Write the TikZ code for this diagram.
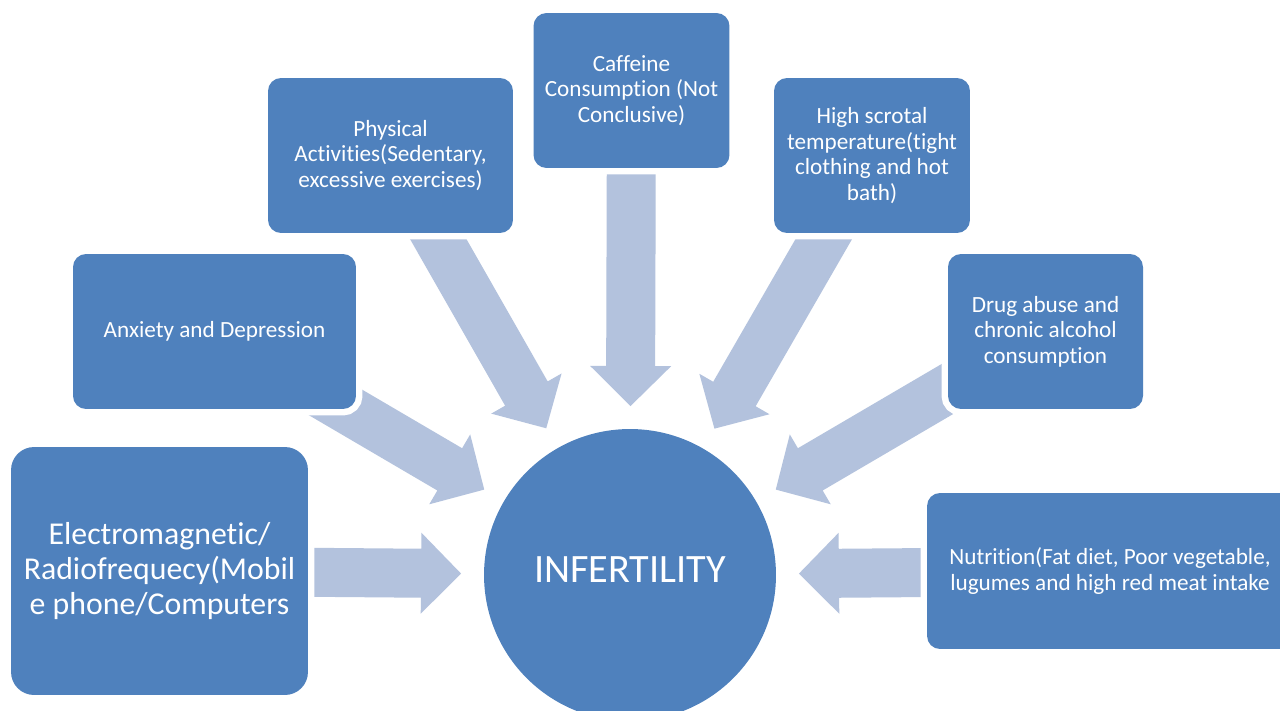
\documentclass[tikz,border=0pt]{standalone}
\usepackage{fontspec}
\setmainfont{Carlito}[Ligatures=NoCommon]
\usepackage{xcolor}
\usepackage{tikz}
\usetikzlibrary{calc, backgrounds}

\definecolor{boxblue}{HTML}{4F81BD}
\definecolor{flowblue}{HTML}{B3C2DD}

% block arrow from a factor box towards the hub
\newcommand{\blockarrow}[2]{%
  \coordinate (tp) at ($(#2.center)!3.38cm!(#1.center)$);
  \coordinate (bs) at ($(#2.center)!4.18cm!(#1.center)$);
  \fill[flowblue] ($(#1.center)!0.49cm!90:(tp)$) -- ($(bs)!0.49cm!90:(tp)$)
    -- ($(bs)!0.81cm!90:(tp)$) -- (tp) -- ($(bs)!0.81cm!-90:(tp)$)
    -- ($(bs)!0.49cm!-90:(tp)$) -- ($(#1.center)!0.49cm!-90:(tp)$) -- cycle;
}

\begin{document}
\begin{tikzpicture}[x=0.02cm, y=-0.02cm,
  factor/.style={rectangle, rounded corners=0.26cm, fill=boxblue, text=white,
    align=center, inner sep=0pt, preaction={draw=white, line width=0.26cm},
    font=\fontsize{13.2}{14.46}\selectfont},
  hub/.style={circle, fill=boxblue, text=white, inner sep=0pt,
    minimum size=5.84cm, font=\fontsize{22.9}{28}\selectfont}]
  \useasboundingbox (0,0) rectangle (1280,710);

  \node[hub, text depth=0.2cm] (inf) at (630,575) {INFERTILITY};

  \node[factor, minimum width=5.94cm, minimum height=4.96cm, rounded corners=0.46cm,
    font=\fontsize{18.1}{19.85}\selectfont] (emf) at (159.5,571)
    {Electromagnetic/\\Radiofrequecy(Mobil\\e phone/Computers};
  \node[factor, minimum width=5.66cm, minimum height=3.1cm] (anx) at (214.5,331.5)
    {Anxiety and Depression};
  \node[factor, minimum width=4.9cm, minimum height=3.1cm] (phys) at (390.5,155.5)
    {Physical\\Activities(Sedentary,\\excessive exercises)};
  \node[factor, minimum width=3.92cm, minimum height=3.1cm] (caff) at (631.5,90.5)
    {Caffeine\\Consumption (Not\\Conclusive)};
  \node[factor, minimum width=3.92cm, minimum height=3.1cm] (heat) at (872,155.5)
    {High scrotal\\temperature(tight\\clothing and hot\\bath)};
  \node[factor, minimum width=3.9cm, minimum height=3.1cm] (drug) at (1045.5,331.5)
    {Drug abuse and\\chronic alcohol\\consumption};
  \node[factor, minimum width=7.32cm, minimum height=3.12cm] (nutr) at (1110,571)
    {Nutrition(Fat diet, Poor vegetable,\\lugumes and high red meat intake};

  \begin{scope}[on background layer]
    \fill[white] (0,0) rectangle (1280,710);
    \foreach \src in {emf, anx, phys, caff, heat, drug, nutr}
      \blockarrow{\src}{inf};
  \end{scope}
\end{tikzpicture}
\end{document}
